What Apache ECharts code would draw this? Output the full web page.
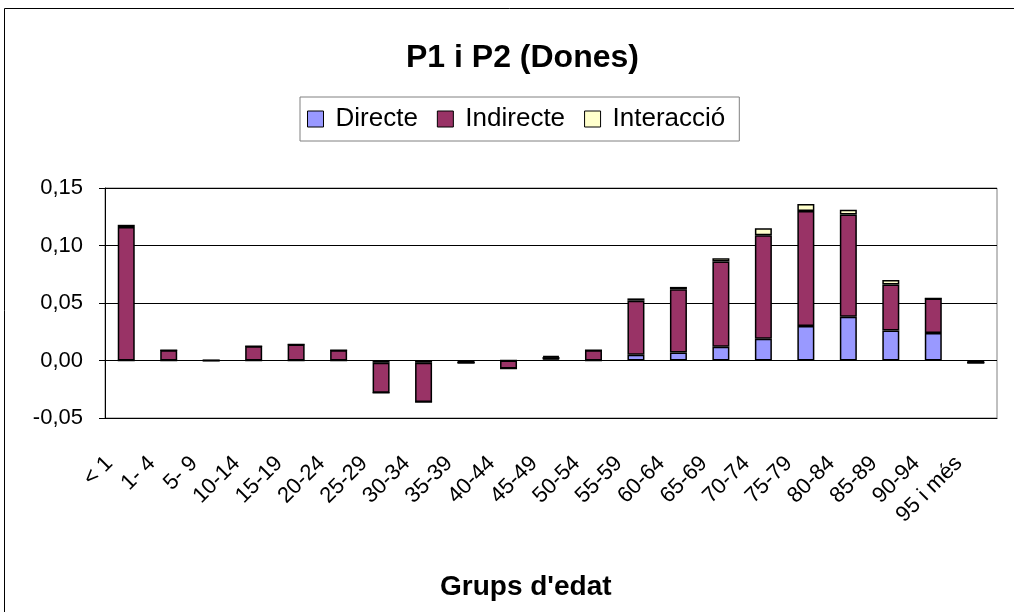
<!DOCTYPE html>
<html>
<head>
<meta charset="utf-8">
<script src="https://cdn.jsdelivr.net/npm/echarts@6/dist/echarts.min.js"></script>
<style>
  body { margin: 0; background: #fff; }
  #main { width: 1014px; height: 612px; }
</style>
</head>
<body>
<div id="main"></div>
<script>
var categories = ['< 1', '1- 4', '5- 9', '10-14', '15-19', '20-24', '25-29', '30-34', '35-39', '40-44',
    '45-49', '50-54', '55-59', '60-64', '65-69', '70-74', '75-79', '80-84', '85-89', '90-94', '95 i més'];

var directe    = [0, 0, 0, 0, 0, 0, -0.002, -0.002, -0.002, 0, 0.001, 0, 0.005, 0.007, 0.012, 0.019, 0.030, 0.038, 0.026, 0.024, -0.002];
var indirecte  = [0.116, 0.009, 0, 0.0125, 0.014, 0.009, -0.026, -0.034, 0, -0.007, 0.002, 0.009, 0.047, 0.055, 0.074, 0.090, 0.100, 0.089, 0.040, 0.030, 0];
var interaccio = [0.002, 0, 0, 0, 0, 0, 0, 0, 0, 0, 0.001, 0, 0.002, 0.002, 0.003, 0.006, 0.006, 0.004, 0.004, 0, 0];

var yTicks = { min: -0.05, max: 0.15, interval: 0.05 };

var FONT = 'Liberation Sans, Arial, sans-serif';

var chart = echarts.init(document.getElementById('main'));

function mkSeries(name, data, color) {
    return {
        name: name,
        type: 'bar',
        stack: 'total',
        data: data,
        barWidth: 17,
        itemStyle: { color: color, borderColor: '#000', borderWidth: 1.5 }
    };
}

var option = {
    animation: false,
    textStyle: { fontFamily: FONT, color: '#000' },
    graphic: [{
        type: 'rect',
        shape: { x: 4.5, y: 8.5, width: 1100, height: 700 },
        style: { fill: 'none', stroke: '#000', lineWidth: 1 },
        silent: true
    }],
    title: [{
        text: 'P1 i P2 (Dones)',
        left: 401,
        top: 37,
        textStyle: { fontSize: 32, fontWeight: 'bold', color: '#000', fontFamily: FONT }
    }, {
        text: "Grups d'edat",
        left: 435,
        top: 568,
        textStyle: { fontSize: 28, fontWeight: 'bold', color: '#000', fontFamily: FONT }
    }],
    legend: {
        top: 97,
        left: 300,
        data: ['Directe', 'Indirecte', 'Interacció'],
        icon: 'rect',
        itemWidth: 16,
        itemHeight: 16,
        itemGap: 19,
        padding: [9, 14, 9, 7],
        borderColor: '#808080',
        borderWidth: 1,
        itemStyle: { borderColor: '#000', borderWidth: 1 },
        textStyle: { fontSize: 26, color: '#000', fontFamily: FONT, padding: [0, 0, 0, 7] }
    },
    grid: {
        left: 105,
        right: 17,
        top: 188,
        bottom: 194,
        show: true,
        borderColor: '#808080',
        borderWidth: 1
    },
    xAxis: {
        type: 'category',
        data: categories,
        axisLine: { onZero: false, lineStyle: { color: '#000', width: 1 } },
        axisTick: { show: false },
        axisLabel: { rotate: 45, interval: 0, fontSize: 22, color: '#000', margin: 25, padding: [0, 24, 0, 0] }
    },
    yAxis: {
        type: 'value',
        min: yTicks.min,
        max: yTicks.max,
        interval: yTicks.interval,
        axisLine: { show: true, lineStyle: { color: '#000' } },
        axisTick: { show: true, length: 6, lineStyle: { color: '#000' } },
        splitLine: { lineStyle: { color: '#000', width: 1 } },
        axisLabel: {
            fontSize: 22,
            color: '#000',
            margin: 22,
            formatter: function (v) { return v.toFixed(2).replace('.', ','); }
        }
    },
    series: [
        mkSeries('Directe', directe, '#9999FF'),
        mkSeries('Indirecte', indirecte, '#993366'),
        mkSeries('Interacció', interaccio, '#FFFFCC')
    ]
};

chart.setOption(option);
</script>
</body>
</html>
